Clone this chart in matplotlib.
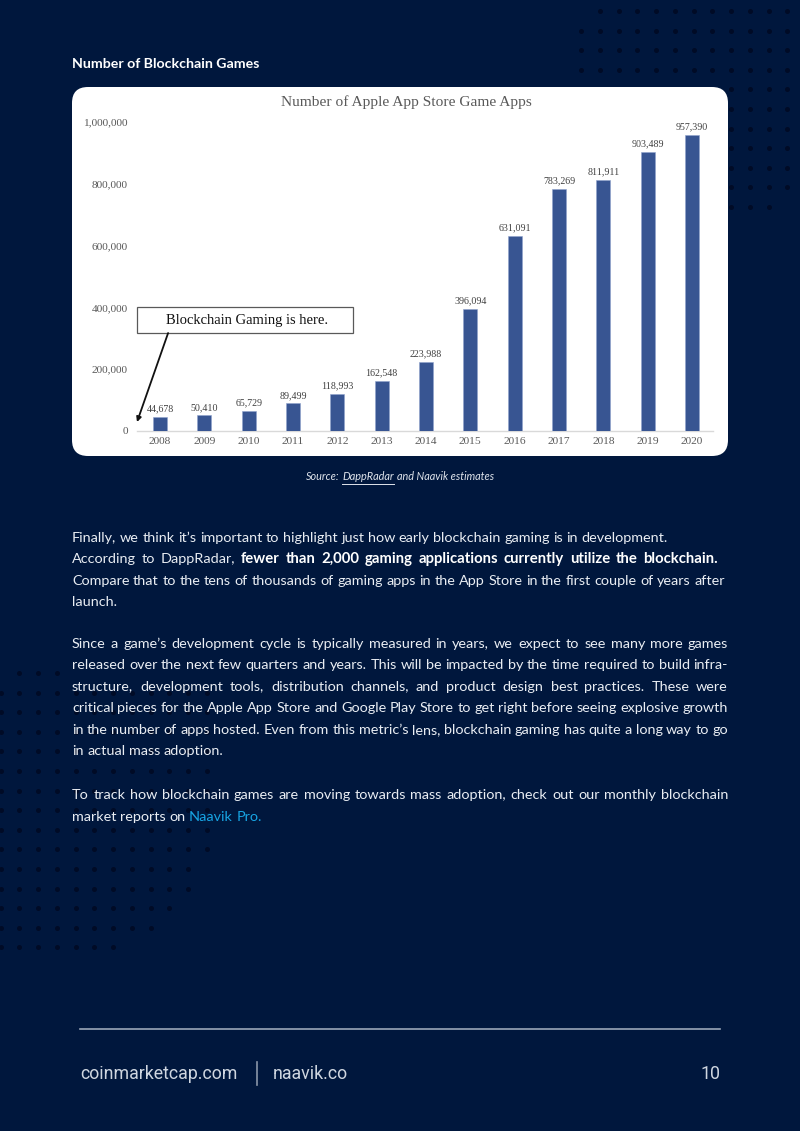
import matplotlib
matplotlib.use("Agg")
import matplotlib.pyplot as plt
from matplotlib.patches import FancyBboxPatch, Rectangle
from matplotlib.ticker import FuncFormatter

# chart data
years = ["2008", "2009", "2010", "2011", "2012", "2013", "2014",
         "2015", "2016", "2017", "2018", "2019", "2020"]
apps = [44678, 50410, 65729, 89499, 118993, 162548, 223988,
        396094, 631091, 783269, 811911, 903489, 957390]
yticks = [0, 200000, 400000, 600000, 800000, 1000000]

heading = "Number of Blockchain Games"
chart_title = "Number of Apple App Store Game Apps"
callout = "Blockchain Gaming is here."

BG = "#00173d"
DOT = "#000b26"
TXT = "#e9edf3"
LINK = "#17a4e3"

# paragraphs: list of lines, each line a list of (text, style)
para1 = [
    [("Finally, we think it’s important to highlight just how early blockchain gaming is in development.", "n")],
    [("According to DappRadar,", "n"), ("fewer than 2,000 gaming applications currently utilize the blockchain.", "b")],
    [("Compare that to the tens of thousands of gaming apps in the App Store in the first couple of years after", "n")],
    [("launch.", "n")],
]
para2 = [
    [("Since a game’s development cycle is typically measured in years, we expect to see many more games", "n")],
    [("released over the next few quarters and years. This will be impacted by the time required to build infra-", "n")],
    [("structure, development tools, distribution channels, and product design best practices. These were", "n")],
    [("critical pieces for the Apple App Store and Google Play Store to get right before seeing explosive growth", "n")],
    [("in the number of apps hosted. Even from this metric’s lens, blockchain gaming has quite a long way to go", "n")],
    [("in actual mass adoption.", "n")],
]
para3 = [
    [("To track how blockchain games are moving towards mass adoption, check out our monthly blockchain", "n")],
    [("market reports on", "n"), ("Naavik Pro.", "l")],
]

fig = plt.figure(figsize=(8, 11.31), dpi=100)
fig.patch.set_facecolor(BG)
bg = fig.add_axes([0, 0, 1, 1])
bg.set_xlim(0, 800)
bg.set_ylim(1131, 0)
bg.axis("off")
bg.set_facecolor(BG)

# dotted decorations
for r in range(11):
    c0 = 1 if r == 0 else 0
    c1 = 10 if r == 10 else 11
    for c in range(c0, c1 + 1):
        bg.scatter(581 + 18.75 * c, 11 + 19.6 * r, s=13, color=DOT, lw=0, zorder=1)
left_rows = [(1, 3), (0, 11), (0, 11), (0, 11), (0, 11), (0, 11), (0, 11), (0, 11),
             (0, 11), (0, 11), (0, 10), (0, 10), (0, 9), (0, 8), (0, 6)]
for r, (c0, c1) in enumerate(left_rows):
    for c in range(c0, c1 + 1):
        bg.scatter(0.5 + 18.75 * c, 673 + 19.6 * r, s=13, color=DOT, lw=0, zorder=1)

# white chart panel
bg.add_patch(FancyBboxPatch((72, 87), 656, 369, boxstyle="round,pad=0,rounding_size=16",
                            fc="white", ec="none", zorder=2))

# chart
ax = fig.add_axes([137 / 800, 1 - 431 / 1131, 576 / 800, 309 / 1131])
ax.patch.set_alpha(0)
x = list(range(len(years)))
bars = ax.bar(x, apps, width=0.32, color="#385592", edgecolor="#8fa3cc", linewidth=0.4, zorder=3)
ax.bar_label(bars, labels=[f"{v:,}" for v in apps], padding=2.5,
             fontsize=7.2, family="Liberation Serif", color="#404040")
ax.set_xlim(-0.519, 12.474)
ax.set_ylim(0, 1000000)
ax.set_xticks(x)
ax.set_xticklabels(years, family="Liberation Serif", fontsize=8.2, color="#595959")
ax.set_yticks(yticks)
ax.yaxis.set_major_formatter(FuncFormatter(lambda v, p: f"{int(v):,}"))
for lab in ax.get_yticklabels():
    lab.set_family("Liberation Serif")
    lab.set_fontsize(8.2)
    lab.set_color("#595959")
ax.tick_params(axis="both", length=0)
ax.tick_params(axis="y", pad=6.5)
ax.tick_params(axis="x", pad=4)
for s in ["top", "right", "left"]:
    ax.spines[s].set_visible(False)
ax.spines["bottom"].set_color("#d9d9d9")
ax.spines["bottom"].set_linewidth(1)
ax.text(0.467, 1.065, chart_title, transform=ax.transAxes, ha="center", va="center",
        family="Liberation Serif", fontsize=11.1, color="#595959")

ax.add_patch(Rectangle((0, 0.317), 0.375, 0.084, transform=ax.transAxes, fc="white",
                       ec="#595959", lw=0.9, zorder=5, clip_on=False))
ax.text(0.191, 0.359, callout, transform=ax.transAxes, ha="center", va="center",
        family="Liberation Serif", fontsize=10.5, color="#111111", zorder=6)
ax.annotate("", xy=(0.0, 0.029), xytext=(0.054, 0.317), xycoords="axes fraction",
            textcoords="axes fraction",
            arrowprops=dict(arrowstyle="-|>", color="#111111", lw=1.3, mutation_scale=7,
                            shrinkA=0, shrinkB=0), zorder=6)

# page text
fig.canvas.draw()
rend = fig.canvas.get_renderer()
FAM = ["Lato", "DejaVu Sans"]


def style_props(st, fs):
    p = dict(family=FAM, fontsize=fs, color=TXT)
    if st == "b":
        p["fontweight"] = "bold"
        p["color"] = "white"
        p["fontsize"] = fs * 1.03
    if st == "l":
        p["color"] = LINK
    return p


def width_of(s, props):
    t = bg.text(0, 0, s, **props)
    w = t.get_window_extent(rend).width
    t.remove()
    return w


def put_line(x0, y, segs, fs, width=None):
    words = []
    for text, st in segs:
        for w in text.split(" "):
            words.append((w, style_props(st, fs)))
    ws = [width_of(w, p) for w, p in words]
    gap = width_of("a a", style_props("n", fs)) - width_of("aa", style_props("n", fs))
    if width is not None and len(words) > 1:
        gap = (width - sum(ws)) / (len(words) - 1)
    xx = x0
    for (w, p), wd in zip(words, ws):
        bg.text(xx, y, w, ha="left", va="baseline", zorder=3, **p)
        xx += wd + gap


# body font size fitted so the third line of para 1 fills the column
fs = 10
full = para1[2][0][0]
fs = fs * 656 / width_of(full, style_props("n", fs))

step = 21.55
widths1 = [None, 646, None, None]
for i, line in enumerate(para1):
    put_line(72, 541.5 + i * step, line, fs, widths1[i])
for i, line in enumerate(para2):
    put_line(72, 647.5 + i * step, line, fs, 656 if i < len(para2) - 1 else None)
for i, line in enumerate(para3):
    put_line(72, 799 + i * step, line, fs, 656 if i < len(para3) - 1 else None)

bg.text(72, 68.5, heading, family=FAM, fontweight="bold", fontsize=10.2, color="white",
        ha="left", va="baseline", zorder=3)

# source line
src = [("Source:", False), ("DappRadar", True), ("and Naavik estimates", False)]
sp = dict(family=FAM, fontsize=7.8, style="italic", color="#dfe4ec")
sws = [width_of(s, sp) for s, _ in src]
sgap = width_of("a a", sp) - width_of("aa", sp)
tot = sum(sws) + sgap * (len(src) - 1)
xx = 400 - tot / 2
for (s, und), wd in zip(src, sws):
    bg.text(xx, 480.5, s, ha="left", va="baseline", zorder=3, **sp)
    if und:
        bg.plot([xx, xx + wd], [483.5, 483.5], color="#dfe4ec", lw=0.7, zorder=3)
    xx += wd + sgap

# footer
bg.plot([80, 720], [1029, 1029], color="#9aa6b8", lw=1.2, zorder=3)
FOOT = ["Roboto", "DejaVu Sans"]
bg.text(80, 1079, "coinmarketcap.com", family=FOOT, fontsize=12.8,
        color="#cfd6e0", ha="left", va="baseline")
bg.plot([257, 257], [1062, 1085], color="#8a96a8", lw=1.2)
bg.text(273, 1079, "naavik.co", family=FOOT, fontsize=12.8,
        color="#cfd6e0", ha="left", va="baseline")
bg.text(721, 1079, "10", family=FOOT, fontsize=12.8,
        color="#cfd6e0", ha="right", va="baseline")

fig.savefig("out.png", dpi=100, facecolor=BG)
